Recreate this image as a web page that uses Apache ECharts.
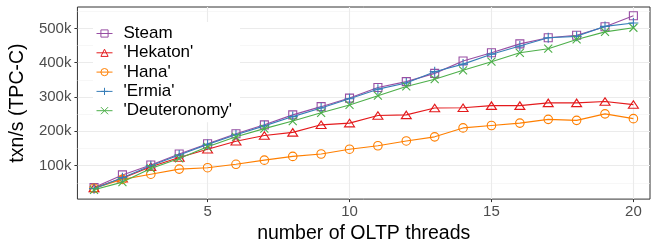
<!DOCTYPE html>
<html>
<head>
<meta charset="utf-8">
<script src="https://cdn.jsdelivr.net/npm/echarts@6/dist/echarts.min.js"></script>
<style>
html,body{margin:0;padding:0;background:#fff;}
#c{width:657px;height:249px;}
</style>
</head>
<body>
<div id="c"></div>
<script>
var threads = [1,2,3,4,5,6,7,8,9,10,11,12,13,14,15,16,17,18,19,20];
var seriesNames = ["Steam", "'Hekaton'", "'Hana'", "'Ermia'", "'Deuteronomy'"];
var steam = [36000,73000,102000,134000,164000,193000,219000,248000,272000,297000,328000,345000,369000,405000,429000,455000,473000,480000,505000,537000];
var hekaton = [35000,63000,97000,124000,148000,171000,188000,197000,219000,224000,246000,248000,268000,269000,275000,275000,283000,283000,287000,278000];
var hana = [34000,60000,75000,90000,94000,104000,116000,127000,134000,148000,158000,172000,184000,210000,217000,224000,235000,232000,251000,237000];
var ermia = [33000,65000,100000,131000,162000,190000,216000,243000,268000,295000,323000,341000,374000,396000,425000,449000,473000,477000,506000,516000];
var deuteronomy = [29500,52000,92000,121000,155000,184000,208000,230000,254000,277000,304000,331000,352000,378000,403000,429000,441000,468000,490000,502000];
var xTicks = [5,10,15,20];
var yTicks = [100000,200000,300000,400000,500000];
var yMinor = [50000,150000,250000,350000,450000,550000];

var colors = ['#984EA3','#E41A1C','#FF7F00','#377EB8','#4DAF4A'];
var symbols = [
  'path://M0,0L10,0L10,10L0,10Z',
  'path://M5,0L10,8.66L0,8.66Z',
  'path://M10,5A5,5,0,1,1,0,5A5,5,0,1,1,10,5Z',
  'path://M5,0L5,10M0,5L10,5',
  'path://M0,0L10,10M10,0L0,10'
];
var sizes = [8, [10,8.66], 8.5, 10, 8];
var allData = [steam, hekaton, hana, ermia, deuteronomy];

function pairs(vals){ return threads.map(function(t,i){ return [t, vals[i]]; }); }

var series = seriesNames.map(function(name, k){
  return {
    name: name,
    type: 'line',
    data: pairs(allData[k]),
    symbol: symbols[k],
    symbolSize: sizes[k],
    symbolKeepAspect: true,
    showAllSymbol: true,
    lineStyle: {color: colors[k], width: 1.1},
    itemStyle: {color: 'none', borderColor: colors[k], borderWidth: 1.1},
    emphasis: {disabled: true},
    animation: false,
    z: 3 + k
  };
});

var chart = echarts.init(document.getElementById('c'), null, {renderer: 'canvas'});
chart.setOption({
  animation: false,
  grid: {left: 77, right: 7, top: 7, bottom: 48, show: true, borderColor: '#333333', borderWidth: 1, backgroundColor: 'transparent'},
  legend: {
    orient: 'vertical',
    left: 93, top: 22,
    padding: [3, 8, 3, 3],
    backgroundColor: '#ffffff',
    itemWidth: 16, itemHeight: 9, itemGap: 2.3,
    itemStyle: {borderWidth: 1},
    lineStyle: {width: 1},
    textStyle: {fontFamily: 'Liberation Sans', fontSize: 17, lineHeight: 17, color: '#000', padding: [0,0,0,6]},
    data: seriesNames
  },
  xAxis: {
    type: 'value', min: 0.415, max: 20.585,
    name: 'number of OLTP threads', nameLocation: 'middle', nameGap: 24,
    nameTextStyle: {fontFamily: 'Liberation Sans', fontSize: 19.5, color: '#000'},
    axisLine: {show: false},
    axisTick: {show: true, length: 3, lineStyle: {color: '#333333', width: 1}, customValues: xTicks},
    axisLabel: {customValues: xTicks, margin: 5, fontFamily: 'Liberation Sans', fontSize: 15, color: '#4D4D4D'},
    splitLine: {show: true, lineStyle: {color: '#EBEBEB', width: 1.1}}
  },
  yAxis: [{
    type: 'value', min: 2500, max: 562500,
    name: 'txn/s (TPC-C)', nameLocation: 'middle', nameGap: 37,
    nameTextStyle: {fontFamily: 'Liberation Sans', fontSize: 19.5, color: '#000'},
    axisLine: {show: false},
    axisTick: {show: true, length: 3, lineStyle: {color: '#333333', width: 1}, customValues: yTicks},
    axisLabel: {customValues: yTicks, margin: 6, fontFamily: 'Liberation Sans', fontSize: 15, color: '#4D4D4D',
      formatter: function(v){ return (v/1000) + 'k'; }},
    splitLine: {show: true, lineStyle: {color: '#EBEBEB', width: 1.1}}
  }, {
    type: 'value', min: 2500, max: 562500, position: 'left',
    axisLine: {show: false},
    axisTick: {show: false, customValues: yMinor},
    axisLabel: {show: false, customValues: yMinor},
    splitLine: {show: true, lineStyle: {color: '#F2F2F2', width: 0.6}}
  }],
  series: series
});
</script>
</body>
</html>
